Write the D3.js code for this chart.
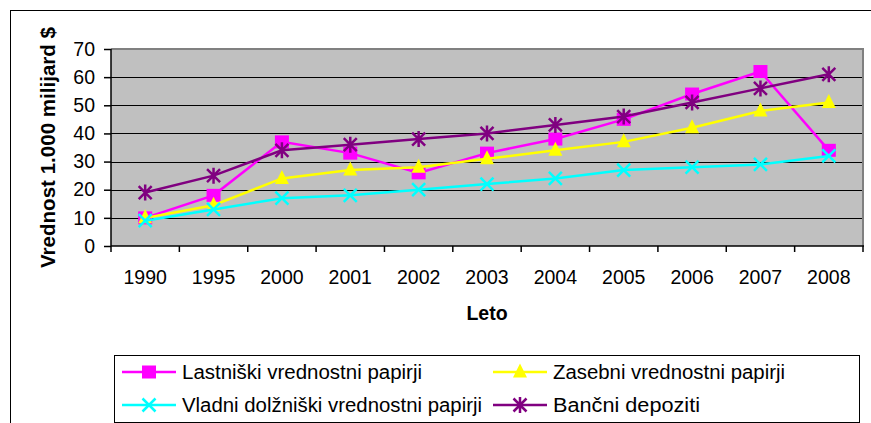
<!DOCTYPE html>
<html><head><meta charset="utf-8">
<script src="https://cdn.jsdelivr.net/npm/d3@7"></script>
<style>body{margin:0;background:#fff}svg{display:block;font-family:Arial,"Liberation Sans",sans-serif}</style>
</head><body>
<svg id="c" width="871" height="423"></svg>
<script>
const years = ["1990","1995","2000","2001","2002","2003","2004","2005","2006","2007","2008"];
const lastniski = [10,18,37,33,26,33,38,45,54,62,34];
const zasebni = [10,14.5,24,27,28,31,34,37,42,48,51];
const vladni = [9,13,17,18,20,22,24,27,28,29,32];
const bancni = [19,25,34,36,38,40,43,46,51,56,61];
const yTicks = [0,10,20,30,40,50,60,70];
const seriesNames = ["Lastniški vrednostni papirji","Zasebni vrednostni papirji","Vladni dolžniški vrednostni papirji","Bančni depoziti"];
const seriesColors = ["#FF00FF","#FFFF00","#00FFFF","#800080"];
const seriesMarkers = ["square","triangle","x","star"];
const seriesData = [lastniski, zasebni, vladni, bancni];

const svg = d3.select("#c");
const L = 111, R = 863, T = 49, B = 246;
const FONT = 19.5;

// outer border
svg.append("rect").attr("x",10.5).attr("y",10.5).attr("width",900).attr("height",500)
  .attr("fill","none").attr("stroke","#000").attr("stroke-width",1);

const x = d3.scaleBand().domain(years).range([L,R]).padding(0);
const y = d3.scaleLinear().domain([0,70]).range([B,T]);

// plot area
svg.append("rect").attr("x",L).attr("y",T).attr("width",R-L).attr("height",B-T).attr("fill","#C0C0C0");
// gridlines
svg.append("g").selectAll("line").data(yTicks.filter(d=>d>0&&d<70)).join("line")
  .attr("x1",L).attr("x2",R).attr("y1",d=>Math.round(y(d))+0.5).attr("y2",d=>Math.round(y(d))+0.5)
  .attr("stroke","#000").attr("stroke-width",1);
// top/right gray border
svg.append("path").attr("d",`M${L},${T} H${R} V${B}`).attr("fill","none").attr("stroke","#808080").attr("stroke-width",2);

// y axis
const yAxis = svg.append("g").attr("transform",`translate(${L},0)`)
  .call(d3.axisLeft(y).tickValues(yTicks).tickSize(7).tickPadding(9));
yAxis.select(".domain").attr("stroke","#000").attr("stroke-width",1.5).attr("d",`M0,${T}V${B}`);
yAxis.selectAll("text").attr("font-size",FONT).attr("fill","#000").attr("font-family","Arial,'Liberation Sans',sans-serif");
yAxis.selectAll(".tick line").attr("stroke","#000").attr("stroke-width",1.5);

// x axis
const xg = svg.append("g").attr("transform",`translate(0,${B})`);
xg.append("line").attr("x1",L).attr("x2",R+1).attr("y1",0).attr("y2",0).attr("stroke","#000").attr("stroke-width",1.5);
const bounds = years.map(d=>x(d)).concat([R]);
xg.selectAll("line.t").data(bounds).join("line").attr("class","t")
  .attr("x1",d=>d).attr("x2",d=>d).attr("y1",0).attr("y2",6).attr("stroke","#000").attr("stroke-width",1.5);
xg.selectAll("text").data(years).join("text")
  .attr("x",d=>x(d)+x.bandwidth()/2).attr("y",38).attr("text-anchor","middle")
  .attr("font-size",FONT).attr("fill","#000").text(d=>d);

// axis titles
svg.append("text").attr("x",487).attr("y",320).attr("text-anchor","middle").attr("font-size",FONT).attr("font-weight","bold").text("Leto");
svg.append("text").attr("transform","translate(55,147.5) rotate(-90)").attr("text-anchor","middle")
  .attr("font-size",FONT).attr("font-weight","bold").attr("textLength",241).attr("lengthAdjust","spacingAndGlyphs")
  .text("Vrednost 1.000 milijard $");

function marker(g, type, color, cx, cy){
  if(type==="square"){
    g.append("rect").attr("x",cx-7).attr("y",cy-6.5).attr("width",14).attr("height",13).attr("fill",color);
  } else if(type==="triangle"){
    g.append("path").attr("d",`M${cx},${cy-8.5}L${cx+7},${cy+5.5}L${cx-7},${cy+5.5}Z`).attr("fill",color);
  } else if(type==="x"){
    g.append("path").attr("d",`M${cx-6.5},${cy-6.5}L${cx+6.5},${cy+6.5}M${cx+6.5},${cy-6.5}L${cx-6.5},${cy+6.5}`).attr("stroke",color).attr("stroke-width",2.5);
  } else {
    g.append("path").attr("d",`M${cx-6.5},${cy-6.5}L${cx+6.5},${cy+6.5}M${cx+6.5},${cy-6.5}L${cx-6.5},${cy+6.5}M${cx},${cy-8}L${cx},${cy+8}`).attr("stroke",color).attr("stroke-width",2.5);
  }
}

const line = d3.line().x((d,i)=>x(years[i])+x.bandwidth()/2).y(d=>y(d));
seriesData.forEach((data,si)=>{
  const g = svg.append("g");
  g.append("path").attr("d",line(data)).attr("fill","none").attr("stroke",seriesColors[si]).attr("stroke-width",2.5);
  data.forEach((v,i)=>marker(g, seriesMarkers[si], seriesColors[si], x(years[i])+x.bandwidth()/2, y(v)));
});

// legend
svg.append("rect").attr("x",114.5).attr("y",355.5).attr("width",745).attr("height",67).attr("fill","#fff").attr("stroke","#000").attr("stroke-width",1);
const legPos = [[122,372],[493,372],[122,405],[493,405]];
const legLen = [240,232,300,147];
seriesNames.forEach((n,si)=>{
  const [lx,ly] = legPos[si];
  const g = svg.append("g");
  g.append("line").attr("x1",lx).attr("x2",lx+54).attr("y1",ly).attr("y2",ly).attr("stroke",seriesColors[si]).attr("stroke-width",2.5);
  marker(g, seriesMarkers[si], seriesColors[si], lx+27, ly);
  g.append("text").attr("x",lx+60).attr("y",ly+7).attr("font-size",FONT).attr("fill","#000")
    .attr("textLength",legLen[si]).attr("lengthAdjust","spacingAndGlyphs").text(n);
});
</script>
</body></html>
